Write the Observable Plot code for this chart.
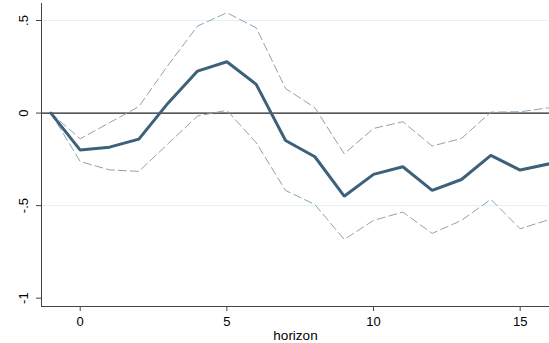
<!DOCTYPE html>
<html><head><meta charset="utf-8">
<script src="https://cdn.jsdelivr.net/npm/d3@7"></script>
<script src="https://cdn.jsdelivr.net/npm/@observablehq/plot@0.6"></script>
<style>body{margin:0;background:#fff} svg{display:block}</style>
</head><body><div id="chart"></div>
<script>
const horizon = [-1, 0, 1, 2, 3, 4, 5, 6, 7, 8, 9, 10, 11, 12, 13, 14, 15, 16];
const irf   = [0, -0.200, -0.184, -0.141, 0.055, 0.227, 0.277, 0.155, -0.148, -0.236, -0.449, -0.331, -0.290, -0.418, -0.359, -0.229, -0.308, -0.274];
const upper = [0, -0.139, -0.052, 0.035, 0.260, 0.470, 0.542, 0.461, 0.133, 0.029, -0.220, -0.083, -0.047, -0.178, -0.137, 0.005, 0.007, 0.029];
const lower = [0, -0.262, -0.307, -0.315, -0.165, -0.016, 0.015, -0.160, -0.418, -0.494, -0.683, -0.580, -0.535, -0.650, -0.580, -0.466, -0.625, -0.575];
const xTicks = [0, 5, 10, 15];
const yTicks = [-1, -0.5, 0, 0.5];
const yTickLabels = ["-1", "-.5", "0", ".5"];
const gridValues = [-0.5, 0.5];
const xLabel = "horizon";

const data = horizon.map((h, i) => ({h, irf: irf[i], upper: upper[i], lower: lower[i]}));
const xMin = -1.32, yMin = -1.045;

const chart = Plot.plot({
  width: 549, height: 343,
  marginLeft: 41, marginRight: 0, marginTop: 3, marginBottom: 37,
  style: {fontFamily: "'Liberation Sans', Arial, sans-serif", fontSize: "13px", color: "#000", background: "#fff"},
  x: {domain: [xMin, 16]},
  y: {domain: [yMin, 0.592]},
  marks: [
    Plot.ruleY(gridValues, {stroke: "#e6eff2", strokeWidth: 1}),
    Plot.ruleY([0], {stroke: "#222", strokeWidth: 1.3}),
    Plot.line(data, {x: "h", y: "upper", stroke: "#8aa3b5", strokeWidth: 1, strokeDasharray: "8,4"}),
    Plot.line(data, {x: "h", y: "lower", stroke: "#8aa3b5", strokeWidth: 1, strokeDasharray: "8,4"}),
    Plot.line(data, {x: "h", y: "irf", stroke: "#3d6179", strokeWidth: 3, strokeLinejoin: "miter"}),
    Plot.axisX({ticks: xTicks, tickSize: 5, tickPadding: 5, label: null, stroke: "#444"}),
    Plot.axisY({ticks: yTicks, tickSize: 5, tickFormat: () => "", label: null, stroke: "#444"}),
    Plot.text(yTicks, {y: d => d, text: (d, i) => yTickLabels[i], frameAnchor: "left", dx: -18, rotate: -90, textAnchor: "middle", lineAnchor: "middle", fontSize: 13}),
    Plot.ruleX([xMin], {stroke: "#444", strokeWidth: 1}),
    Plot.ruleY([yMin], {stroke: "#444", strokeWidth: 1}),
    Plot.text([xLabel], {frameAnchor: "bottom", dy: 29, lineAnchor: "middle", fontSize: 13.5})
  ]
});
document.getElementById("chart").appendChild(chart);
</script>
</body></html>
